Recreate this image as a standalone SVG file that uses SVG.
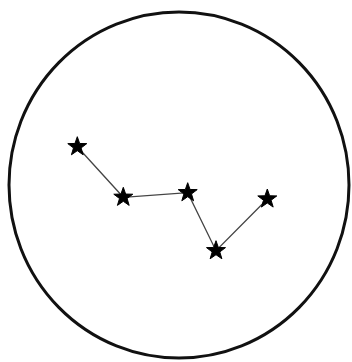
<svg xmlns="http://www.w3.org/2000/svg" width="352" height="362" viewBox="0 0 352 362">
<style>
.edge{stroke:#444;stroke-width:1.3;fill:none}
.star{fill:#000;stroke:#000;stroke-width:1;stroke-linejoin:round}
</style>
<defs>
<polygon id="s" points="0,-10 2.35,-3.24 9.51,-3.09 3.8,1.24 5.88,8.09 0,4 -5.88,8.09 -3.8,1.24 -9.51,-3.09 -2.35,-3.24"/>
</defs>
<rect width="352" height="362" fill="#fff"/>
<ellipse cx="179" cy="185" rx="170" ry="173" fill="none" stroke="#111" stroke-width="3"/>
<g id="connectors">
<polyline class="edge" points="77.3,146.7 123.3,197.3 187.7,192.7 216,250.7 267.3,199"/>
</g>
<g id="star1"><use href="#s" class="star" x="77.3" y="146.7"/></g>
<g id="star2"><use href="#s" class="star" x="123.3" y="197.3"/></g>
<g id="star3"><use href="#s" class="star" x="187.7" y="192.7"/></g>
<g id="star4"><use href="#s" class="star" x="216" y="250.7"/></g>
<g id="star5"><use href="#s" class="star" x="267.3" y="199"/></g>
</svg>
